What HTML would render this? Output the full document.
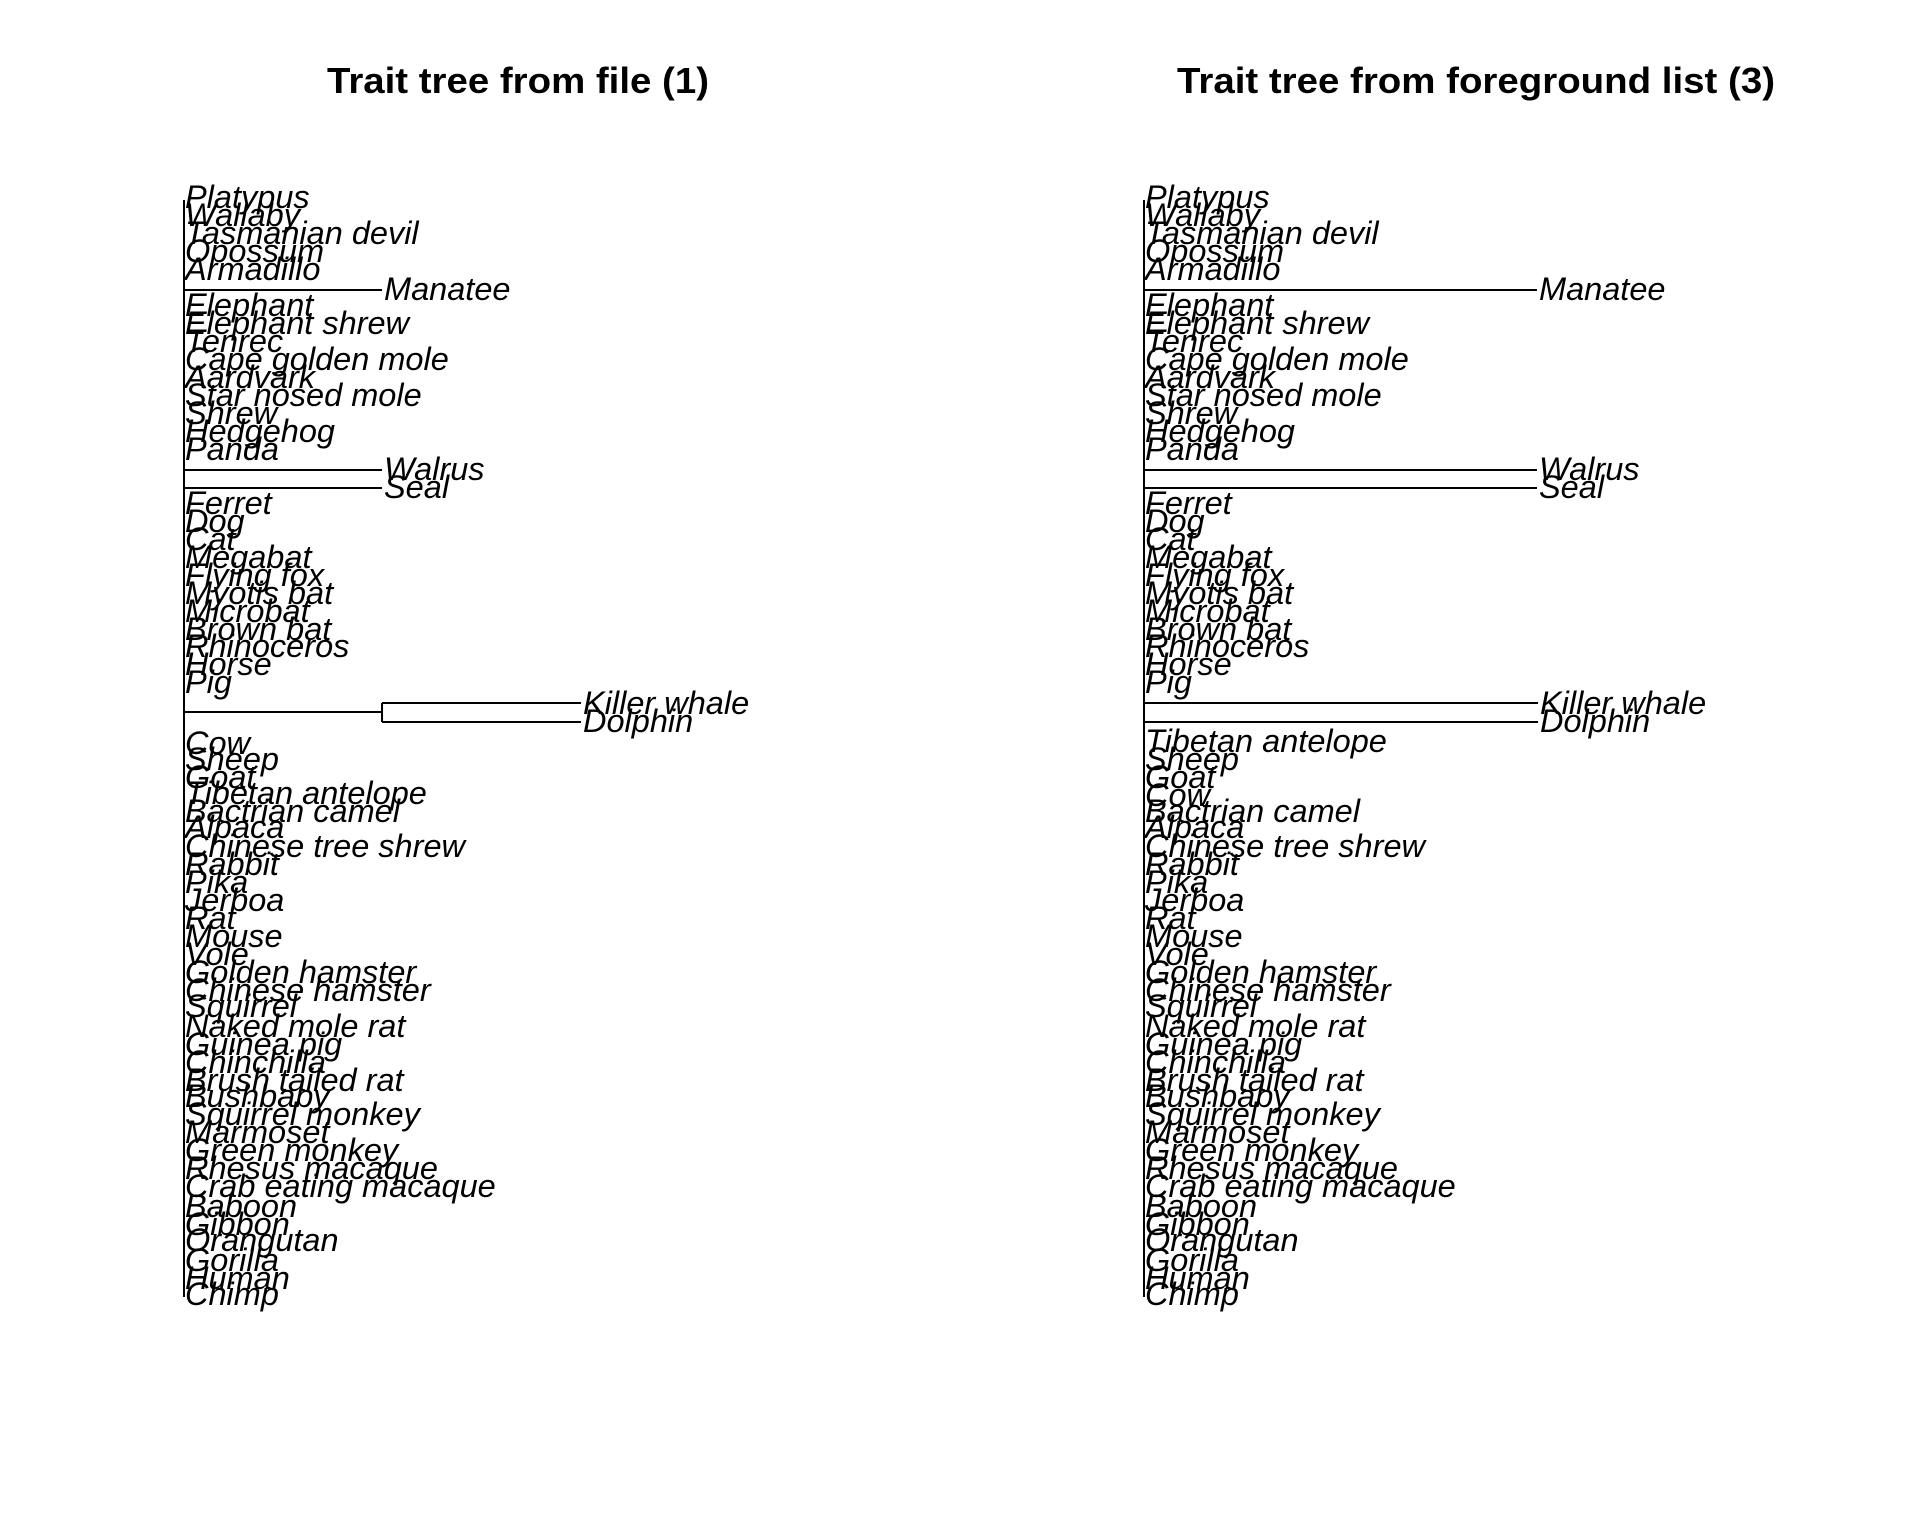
<!DOCTYPE html>
<html><head><meta charset="utf-8"><style>
html,body{margin:0;padding:0;background:#fff;}
svg{display:block;}
text{font-family:"Liberation Sans",Arial,sans-serif;}
.l text{font-style:italic;font-size:32.5px;fill:#000;}
</style></head><body>
<svg width="1920" height="1536" viewBox="0 0 1920 1536" xmlns="http://www.w3.org/2000/svg">
<text x="518" y="93" text-anchor="middle" font-weight="bold" font-size="36" textLength="382" lengthAdjust="spacingAndGlyphs">Trait tree from file (1)</text>
<text x="1476" y="93" text-anchor="middle" font-weight="bold" font-size="36" textLength="598" lengthAdjust="spacingAndGlyphs">Trait tree from foreground list (3)</text>

<g stroke="#000" stroke-width="2" fill="none">
<line x1="184" y1="200" x2="184" y2="1297"/>
<line x1="184" y1="290" x2="382" y2="290"/>
<line x1="184" y1="470" x2="382" y2="470"/>
<line x1="184" y1="488" x2="382" y2="488"/>
<line x1="184" y1="712" x2="382" y2="712"/>
<line x1="382" y1="703" x2="382" y2="722"/>
<line x1="382" y1="703" x2="581" y2="703"/>
<line x1="382" y1="722" x2="581" y2="722"/>

<line x1="1144" y1="200" x2="1144" y2="1297"/>
<line x1="1144" y1="290" x2="1537" y2="290"/>
<line x1="1144" y1="470" x2="1537" y2="470"/>
<line x1="1144" y1="488" x2="1537" y2="488"/>
<line x1="1144" y1="703" x2="1538" y2="703"/>
<line x1="1144" y1="722" x2="1538" y2="722"/>
</g>

<g class="l">
<text x="185" y="208">Platypus</text>
<text x="185" y="226">Wallaby</text>
<text x="185" y="244">Tasmanian devil</text>
<text x="185" y="262">Opossum</text>
<text x="185" y="280">Armadillo</text>
<text x="384" y="300">Manatee</text>
<text x="185" y="316">Elephant</text>
<text x="185" y="334">Elephant shrew</text>
<text x="185" y="352">Tenrec</text>
<text x="185" y="370">Cape golden mole</text>
<text x="185" y="388">Aardvark</text>
<text x="185" y="406">Star nosed mole</text>
<text x="185" y="424">Shrew</text>
<text x="185" y="442">Hedgehog</text>
<text x="185" y="460">Panda</text>
<text x="384" y="480">Walrus</text>
<text x="384" y="498">Seal</text>
<text x="185" y="514">Ferret</text>
<text x="185" y="532">Dog</text>
<text x="185" y="550">Cat</text>
<text x="185" y="568">Megabat</text>
<text x="185" y="586">Flying fox</text>
<text x="185" y="604">Myotis bat</text>
<text x="185" y="622">Microbat</text>
<text x="185" y="640">Brown bat</text>
<text x="185" y="657">Rhinoceros</text>
<text x="185" y="675">Horse</text>
<text x="185" y="693">Pig</text>
<text x="583" y="714">Killer whale</text>
<text x="583" y="732">Dolphin</text>
<text x="185" y="754">Cow</text>
<text x="185" y="770">Sheep</text>
<text x="185" y="788">Goat</text>
<text x="185" y="804">Tibetan antelope</text>
<text x="185" y="822">Bactrian camel</text>
<text x="185" y="838">Alpaca</text>
<text x="185" y="857">Chinese tree shrew</text>
<text x="185" y="875">Rabbit</text>
<text x="185" y="893">Pika</text>
<text x="185" y="911">Jerboa</text>
<text x="185" y="929">Rat</text>
<text x="185" y="947">Mouse</text>
<text x="185" y="965">Vole</text>
<text x="185" y="983">Golden hamster</text>
<text x="185" y="1001">Chinese hamster</text>
<text x="185" y="1017">Squirrel</text>
<text x="185" y="1037">Naked mole rat</text>
<text x="185" y="1055">Guinea pig</text>
<text x="185" y="1073">Chinchilla</text>
<text x="185" y="1091">Brush tailed rat</text>
<text x="185" y="1107">Bushbaby</text>
<text x="185" y="1125">Squirrel monkey</text>
<text x="185" y="1143">Marmoset</text>
<text x="185" y="1161">Green monkey</text>
<text x="185" y="1179">Rhesus macaque</text>
<text x="185" y="1197">Crab eating macaque</text>
<text x="185" y="1217">Baboon</text>
<text x="185" y="1235">Gibbon</text>
<text x="185" y="1251">Orangutan</text>
<text x="185" y="1271">Gorilla</text>
<text x="185" y="1289">Human</text>
<text x="185" y="1305">Chimp</text>
</g>

<g class="l">
<text x="1145" y="208">Platypus</text>
<text x="1145" y="226">Wallaby</text>
<text x="1145" y="244">Tasmanian devil</text>
<text x="1145" y="262">Opossum</text>
<text x="1145" y="280">Armadillo</text>
<text x="1539" y="300">Manatee</text>
<text x="1145" y="316">Elephant</text>
<text x="1145" y="334">Elephant shrew</text>
<text x="1145" y="352">Tenrec</text>
<text x="1145" y="370">Cape golden mole</text>
<text x="1145" y="388">Aardvark</text>
<text x="1145" y="406">Star nosed mole</text>
<text x="1145" y="424">Shrew</text>
<text x="1145" y="442">Hedgehog</text>
<text x="1145" y="460">Panda</text>
<text x="1539" y="480">Walrus</text>
<text x="1539" y="498">Seal</text>
<text x="1145" y="514">Ferret</text>
<text x="1145" y="532">Dog</text>
<text x="1145" y="550">Cat</text>
<text x="1145" y="568">Megabat</text>
<text x="1145" y="586">Flying fox</text>
<text x="1145" y="604">Myotis bat</text>
<text x="1145" y="622">Microbat</text>
<text x="1145" y="640">Brown bat</text>
<text x="1145" y="657">Rhinoceros</text>
<text x="1145" y="675">Horse</text>
<text x="1145" y="693">Pig</text>
<text x="1540" y="714">Killer whale</text>
<text x="1540" y="732">Dolphin</text>
<text x="1145" y="752">Tibetan antelope</text>
<text x="1145" y="770">Sheep</text>
<text x="1145" y="788">Goat</text>
<text x="1145" y="806">Cow</text>
<text x="1145" y="822">Bactrian camel</text>
<text x="1145" y="838">Alpaca</text>
<text x="1145" y="857">Chinese tree shrew</text>
<text x="1145" y="875">Rabbit</text>
<text x="1145" y="893">Pika</text>
<text x="1145" y="911">Jerboa</text>
<text x="1145" y="929">Rat</text>
<text x="1145" y="947">Mouse</text>
<text x="1145" y="965">Vole</text>
<text x="1145" y="983">Golden hamster</text>
<text x="1145" y="1001">Chinese hamster</text>
<text x="1145" y="1017">Squirrel</text>
<text x="1145" y="1037">Naked mole rat</text>
<text x="1145" y="1055">Guinea pig</text>
<text x="1145" y="1073">Chinchilla</text>
<text x="1145" y="1091">Brush tailed rat</text>
<text x="1145" y="1107">Bushbaby</text>
<text x="1145" y="1125">Squirrel monkey</text>
<text x="1145" y="1143">Marmoset</text>
<text x="1145" y="1161">Green monkey</text>
<text x="1145" y="1179">Rhesus macaque</text>
<text x="1145" y="1197">Crab eating macaque</text>
<text x="1145" y="1217">Baboon</text>
<text x="1145" y="1235">Gibbon</text>
<text x="1145" y="1251">Orangutan</text>
<text x="1145" y="1271">Gorilla</text>
<text x="1145" y="1289">Human</text>
<text x="1145" y="1305">Chimp</text>
</g>
</svg>
</body></html>
